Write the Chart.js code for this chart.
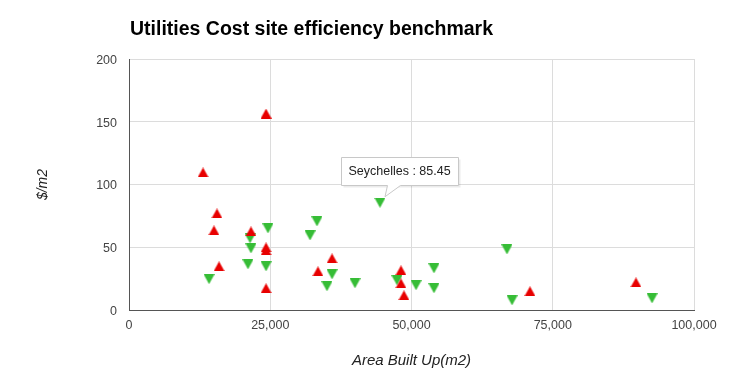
<!DOCTYPE html>
<html>
<head>
<meta charset="utf-8">
<script src="https://cdn.jsdelivr.net/npm/chart.js@4"></script>
<style>
  html, body { margin: 0; padding: 0; background: #fff; }
  #wrap { width: 750px; height: 387px; position: relative; }
</style>
</head>
<body>
<div id="wrap"><canvas id="c" width="750" height="387"></canvas></div>
<script>
// ---- Data ----
const chartTitle = "Utilities Cost site efficiency benchmark";
const xAxisTitle = "Area Built Up(m2)";
const yAxisTitle = "$/m2";

// Sites above benchmark (red, up triangles)
const aboveArea = [24250, 13100, 15575, 15040, 21590, 15930, 24250, 24250, 24250, 35930, 33450, 48140, 48140, 48670, 70970, 89730];
const aboveCost = [156.5, 109.6, 76.9, 63.4, 62.6, 34.8, 49.9, 47.5, 17.3, 41.1, 30.8, 31.6, 21.2, 11.7, 14.9, 22.0];

// Sites below benchmark (green, down triangles)
const belowArea = [14160, 21420, 21590, 24600, 21060, 24250, 32040, 33270, 44420, 35930, 35040, 40000, 47430, 50800, 53980, 53980, 66900, 67790, 92570];
const belowCost = [24.6, 57.1, 49.1, 65.0, 36.4, 34.8, 59.4, 70.6, 85.45, 28.4, 18.9, 21.3, 23.7, 19.7, 33.2, 17.3, 48.3, 7.7, 9.3];

// Highlighted site (tooltip)
const calloutName = "Seychelles";
const calloutIndex = 8; // index in below series

const xTicks = [0, 25000, 50000, 75000, 100000];
const yTicks = [0, 50, 100, 150, 200];

const FONT = "'Liberation Sans', Arial, sans-serif";

function pts(xs, ys) { return xs.map((x, i) => ({ x: x, y: ys[i] })); }

// Triangle marker images, centred on their bounding box
function triangleImage(color, up) {
  const w = 11, h = 10;
  const cv = document.createElement('canvas');
  cv.width = w; cv.height = h;
  const c = cv.getContext('2d');
  c.fillStyle = color;
  c.beginPath();
  if (up) {
    c.moveTo(w / 2, 0); c.lineTo(w, h); c.lineTo(0, h);
  } else {
    c.moveTo(0, 0); c.lineTo(w, 0); c.lineTo(w / 2, h);
  }
  c.closePath();
  c.fill();
  return cv;
}
const upMarker = triangleImage('#e80000', true);
const downMarker = triangleImage('#36bd36', false);

const titlePlugin = {
  id: 'customTitle',
  afterDraw(chart) {
    const ctx = chart.ctx;
    ctx.save();
    ctx.font = "bold 19.5px " + FONT;
    ctx.fillStyle = '#000';
    ctx.textBaseline = 'alphabetic';
    ctx.textAlign = 'left';
    ctx.fillText(chartTitle, 130, 35);
    ctx.restore();
  }
};

const calloutPlugin = {
  id: 'callout',
  afterDatasetsDraw(chart) {
    const meta = chart.getDatasetMeta(1);
    const el = meta.data[calloutIndex];
    if (!el) return;
    const px = el.x, py = el.y;
    const ctx = chart.ctx;
    const val = belowCost[calloutIndex];
    const text = calloutName + " : " + val.toFixed(2);
    ctx.save();
    ctx.font = "12.5px " + FONT;
    const tw = ctx.measureText(text).width;
    const w = Math.round(tw + 15), h = 28;
    const left = Math.round(px - 39) + 0.5;
    const top = Math.round(py - 46) + 0.5;
    const bottom = top + h;
    // shadow
    ctx.fillStyle = 'rgba(0,0,0,0.08)';
    ctx.fillRect(left + 2, top + 2, w, h);
    // body with tail
    ctx.beginPath();
    ctx.moveTo(left, top);
    ctx.lineTo(left + w, top);
    ctx.lineTo(left + w, bottom);
    ctx.lineTo(Math.round(px + 20) + 0.5, bottom);
    ctx.lineTo(px + 5, py - 6);
    ctx.lineTo(Math.round(px + 7) + 0.5, bottom);
    ctx.lineTo(left, bottom);
    ctx.closePath();
    ctx.fillStyle = '#fff';
    ctx.fill();
    ctx.strokeStyle = '#c8c8c8';
    ctx.lineWidth = 1;
    ctx.stroke();
    ctx.fillStyle = '#222';
    ctx.textBaseline = 'middle';
    ctx.textAlign = 'left';
    ctx.fillText(text, left + 7, top + h / 2 + 0.5);
    ctx.restore();
  }
};

new Chart(document.getElementById('c'), {
  type: 'scatter',
  data: {
    datasets: [
      {
        label: 'Above benchmark',
        data: pts(aboveArea, aboveCost),
        pointStyle: upMarker,
        pointRadius: 6,
        pointHoverRadius: 6,
        pointBorderWidth: 0,
        backgroundColor: '#e80000',
        borderColor: '#e80000'
      },
      {
        label: 'Below benchmark',
        data: pts(belowArea, belowCost),
        pointStyle: downMarker,
        pointRadius: 6,
        pointHoverRadius: 6,
        pointBorderWidth: 0,
        backgroundColor: '#36bd36',
        borderColor: '#36bd36'
      }
    ]
  },
  options: {
    responsive: false,
    animation: false,
    events: [],
    layout: { padding: { left: 0, right: 56, top: 59, bottom: 0 } },
    plugins: {
      legend: { display: false },
      tooltip: { enabled: false },
      title: { display: false }
    },
    scales: {
      x: {
        type: 'linear',
        min: 0,
        max: 100000,
        afterFit(s) { s.height = 77; },
        afterBuildTicks(s) { s.ticks = xTicks.map(v => ({ value: v })); },
        ticks: {
          padding: 8,
          color: '#444',
          font: { family: FONT, size: 12.5 },
          callback: v => v.toLocaleString('en-US')
        },
        grid: { color: '#dcdcdc', drawTicks: false },
        border: { display: true, color: '#555', width: 1 },
        title: {
          display: true,
          text: xAxisTitle,
          color: '#222',
          font: { family: FONT, size: 15, style: 'italic' },
          padding: { top: 0, bottom: 17 }
        }
      },
      y: {
        type: 'linear',
        min: 0,
        max: 200,
        afterFit(s) { s.width = 129; },
        afterBuildTicks(s) { s.ticks = yTicks.map(v => ({ value: v })); },
        ticks: {
          padding: 12,
          labelOffset: 1.5,
          color: '#444',
          font: { family: FONT, size: 12.5 }
        },
        grid: { color: '#dcdcdc', drawTicks: false },
        border: { display: true, color: '#555', width: 1 },
        title: {
          display: true,
          text: yAxisTitle,
          color: '#222',
          font: { family: FONT, size: 14, style: 'italic' },
          padding: { top: 35, bottom: 0 }
        }
      }
    }
  },
  plugins: [titlePlugin, calloutPlugin]
});
</script>
</body>
</html>
